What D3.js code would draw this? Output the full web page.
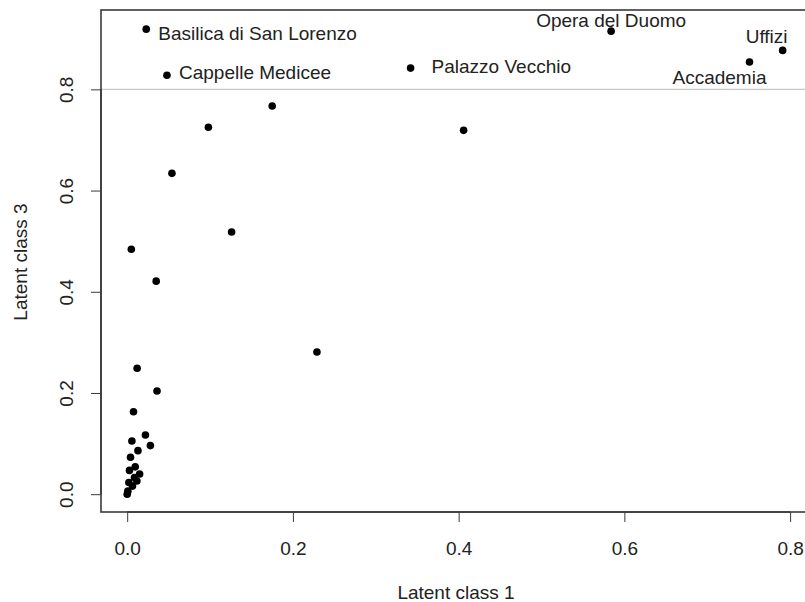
<!DOCTYPE html>
<html lang="en">
<head>
  <meta charset="UTF-8">
  <title>Latent class scatter</title>
  <script src="https://d3js.org/d3.v7.min.js"></script>
  <style>
    body { margin: 0; background: #fff; }
    text { font-family: "Liberation Sans", Arial, sans-serif; fill: #222; }
  </style>
</head>
<body>
  <div id="root"></div>
  <script>
    // data
    const class1 = [0.023, 0.048, 0.342, 0.584, 0.791, 0.751,
      0.175, 0.098, 0.406, 0.054, 0.126, 0.005, 0.035, 0.229, 0.012, 0.036,
      0.0076, 0.022, 0.0057, 0.028, 0.013, 0.004, 0.0097, 0.0028, 0.015,
      0.0088, 0.002, 0.0117, 0.0064, 0.0008, 0.0]
    const class3 = [0.919, 0.828, 0.842, 0.915, 0.877, 0.854,
      0.767, 0.725, 0.719, 0.634, 0.518, 0.484, 0.421, 0.281, 0.249, 0.204,
      0.163, 0.117, 0.105, 0.096, 0.086, 0.073, 0.054, 0.047, 0.040,
      0.033, 0.023, 0.026, 0.016, 0.006, 0.0]
    const names = ['Basilica di San Lorenzo', 'Cappelle Medicee', 'Palazzo Vecchio',
      'Opera del Duomo', 'Uffizi', 'Accademia']
    const xTicks = [0, 0.2, 0.4, 0.6, 0.8]
    const yTicks = [0, 0.2, 0.4, 0.6, 0.8]
    const hLine = 0.8

    const W = 805, H = 602
    const svg = d3.select('#root').append('svg')
      .attr('width', W).attr('height', H)

    // R style: range extended by 4%
    const x = d3.scaleLinear().domain([-0.0316, 0.8216]).range([101, 808])
    const y = d3.scaleLinear().domain([-0.0352, 0.9568]).range([512, 10])
    const fs = '19px'

    // abline
    svg.append('line')
      .attr('x1', x.range()[0]).attr('x2', x.range()[1])
      .attr('y1', y(hLine)).attr('y2', y(hLine))
      .attr('stroke', '#c8c8c8').attr('stroke-width', 1.2)

    // box
    svg.append('rect')
      .attr('x', 101).attr('y', 10)
      .attr('width', 808 - 101).attr('height', 512 - 10)
      .attr('fill', 'none').attr('stroke', '#3a3a3a').attr('stroke-width', 1.6)

    const xAxis = svg.append('g').attr('transform', 'translate(0,512)')
      .call(d3.axisBottom(x).tickValues(xTicks).tickFormat(d3.format('.1f')).tickSizeInner(10).tickSizeOuter(0))
    xAxis.select('.domain').attr('d', `M${x(0)},0H${x(0.8)}`).attr('stroke', '#3a3a3a').attr('stroke-width', 1.6)
    xAxis.selectAll('.tick line').attr('stroke', '#3a3a3a')
    xAxis.selectAll('text')
      .style('font-size', fs).attr('fill', '#222')
      .attr('y', 36).attr('dy', null)
      .attr('dominant-baseline', 'central')

    const yAxis = svg.append('g').attr('transform', 'translate(101,0)')
      .call(d3.axisLeft(y).tickValues(yTicks).tickFormat(d3.format('.1f')).tickSizeInner(10).tickSizeOuter(0))
    yAxis.select('.domain').attr('d', `M0,${y(0)}V${y(0.8)}`).attr('stroke', '#3a3a3a').attr('stroke-width', 1.6)
    yAxis.selectAll('.tick line').attr('stroke', '#3a3a3a')
    yAxis.selectAll('text')
      .style('font-size', fs).attr('fill', '#222')
      .attr('x', null).attr('dy', null)
      .attr('text-anchor', 'middle')
      .attr('transform', 'translate(-35,0) rotate(-90)')
      .attr('dominant-baseline', 'central')

    svg.append('text').attr('x', 456).attr('y', 599)
      .attr('text-anchor', 'middle').style('font-size', fs).text('Latent class 1')
    svg.append('text').attr('transform', 'translate(27,262) rotate(-90)')
      .attr('text-anchor', 'middle').style('font-size', fs).text('Latent class 3')

    const pts = class1.map((v, i) => ({ x: v, y: class3[i], name: names[i] }))

    svg.append('g').selectAll('circle').data(pts).enter()
      .append('circle')
      .attr('cx', d => x(d.x)).attr('cy', d => y(d.y))
      .attr('r', 3.8).attr('fill', '#000')

    // label placement: [anchor, dx, dy]
    const place = {
      'Basilica di San Lorenzo': ['start', 12, 4],
      'Cappelle Medicee': ['start', 12, -3],
      'Palazzo Vecchio': ['start', 21, -2],
      'Opera del Duomo': ['middle', 0, -11],
      'Uffizi': ['middle', -16, -14],
      'Accademia': ['middle', -30, 15]
    }
    svg.append('g').selectAll('text').data(pts.filter(d => d.name)).enter()
      .append('text')
      .attr('x', d => x(d.x) + place[d.name][1])
      .attr('y', d => y(d.y) + place[d.name][2])
      .attr('text-anchor', d => place[d.name][0])
      .attr('dominant-baseline', 'central')
      .style('font-size', fs)
      .text(d => d.name)
  </script>
</body>
</html>
